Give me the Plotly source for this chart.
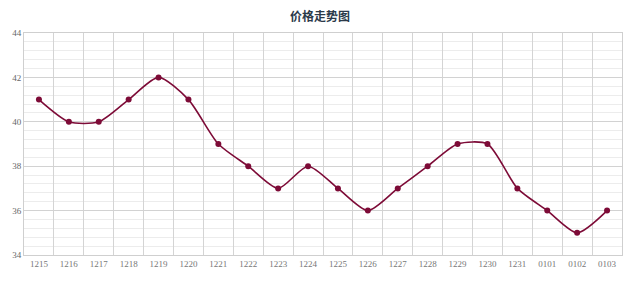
import plotly.graph_objects as go

categories = ["1215", "1216", "1217", "1218", "1219", "1220", "1221", "1222", "1223", "1224",
              "1225", "1226", "1227", "1228", "1229", "1230", "1231", "0101", "0102", "0103"]
prices = [41, 40, 40, 41, 42, 41, 39, 38, 37, 38, 37, 36, 37, 38, 39, 39, 37, 36, 35, 36]
y_ticks = [34, 36, 38, 40, 42, 44]

fig = go.Figure()
fig.add_trace(go.Scatter(
    x=categories, y=prices, mode="lines+markers",
    line=dict(color="#7d0b37", width=1.6, shape="spline", smoothing=0.7),
    marker=dict(color="#7d0b37", size=6),
    hoverinfo="x+y",
))

fig.update_layout(
    width=640, height=281,
    margin=dict(l=21, r=18, t=33, b=22),
    paper_bgcolor="white", plot_bgcolor="white",
    showlegend=False,
    title=dict(text="<b>价格走势图</b>", x=0.5, xanchor="center", y=0.94, yanchor="middle",
               font=dict(family="Noto Sans CJK SC", size=12, color="#2b3a4a")),
)
fig.update_xaxes(
    type="category", tickson="boundaries", range=[-0.5, len(categories) - 0.5],
    showgrid=True, gridcolor="#d4d4d4", gridwidth=1,
    showline=True, linecolor="#cfcfcf", mirror=True, ticks="", zeroline=False,
    tickfont=dict(family="Liberation Serif", size=9, color="#777777"),
)
fig.update_yaxes(
    range=[34, 44], tickvals=y_ticks, showgrid=True, gridcolor="#d2d2d2", gridwidth=1,
    showline=True, linecolor="#cfcfcf", mirror=True, ticks="", zeroline=False,
    tickfont=dict(family="Liberation Serif", size=9, color="#666666"),
    minor=dict(dtick=0.4, showgrid=True, gridcolor="#ececec", gridwidth=1),
)

fig.write_html("out.html")
